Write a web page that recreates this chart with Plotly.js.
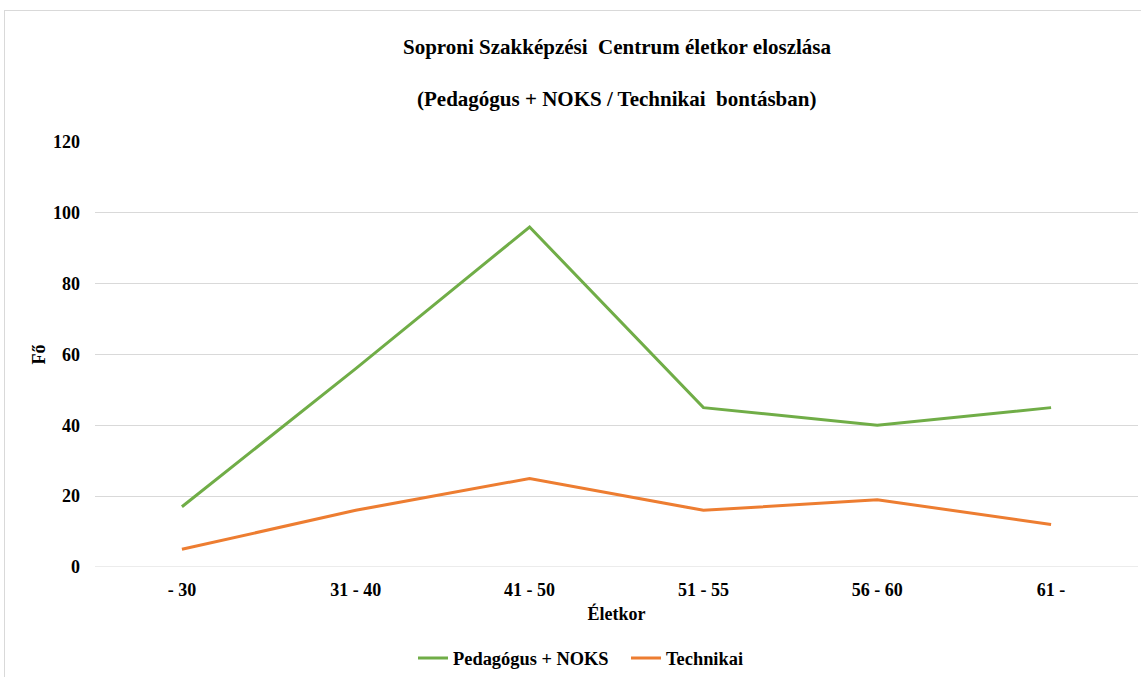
<!DOCTYPE html>
<html><head><meta charset="utf-8">
<script src="https://cdn.plot.ly/plotly-3.0.1.min.js"></script>
<style>html,body{margin:0;padding:0;background:#fff}#frame{position:absolute;left:4px;top:10px;width:1140px;height:670px;border:1px solid #d9d9d9;box-sizing:border-box;pointer-events:none;z-index:5}</style>
</head><body>
<div id="frame"></div>
<div id="chart" style="width:1141px;height:677px"></div>
<script>
const categories = ['- 30', '31 - 40', '41 - 50', '51 - 55', '56 - 60', '61 -'];
const pedagogus = [17, 56, 96, 45, 40, 45];
const technikai = [5, 16, 25, 16, 19, 12];
const yTicks = [0, 20, 40, 60, 80, 100, 120];
const font = 'Liberation Serif, Times New Roman, serif';
const traces = [
  {x: categories, y: pedagogus, type: 'scatter', mode: 'lines', name: 'Pedagógus + NOKS', line: {color: '#70AD47', width: 3}},
  {x: categories, y: technikai, type: 'scatter', mode: 'lines', name: 'Technikai', line: {color: '#ED7D31', width: 3}}
];
const layout = {
  width: 1141, height: 677,
  margin: {l: 95, r: 3, t: 142, b: 110},
  paper_bgcolor: '#fff', plot_bgcolor: '#fff',
  font: {family: font, color: '#000', size: 18},
  showlegend: true,
  legend: {orientation: 'h', x: 0.3049, xanchor: 'left', yref: 'container', y: 0.028, yanchor: 'middle', itemwidth: 30, entrywidth: 168, font: {family: font, size: 18.4, color: '#000', weight: 'bold'}, traceorder: 'normal'},
  xaxis: {
    type: 'category', range: [-0.5, 5.5], showgrid: false, zeroline: false, showline: false, ticks: '',
    tickfont: {family: font, size: 18, weight: 'bold'},
    title: {text: '<b>Életkor</b>', font: {family: font, size: 18}, standoff: 8},
    ticklabelstandoff: 10
  },
  yaxis: {
    range: [0, 120], tickvals: yTicks, showgrid: true, gridcolor: '#d9d9d9', gridwidth: 1,
    zeroline: false, showline: false, ticks: '',
    tickfont: {family: font, size: 18, weight: 'bold'},
    ticklabelstandoff: 14,
    title: {text: '<b>Fő</b>', font: {family: font, size: 18}, standoff: 2}
  },
  shapes: [{type: 'line', xref: 'paper', yref: 'y', x0: 0, x1: 1, y0: 0, y1: 0, line: {color: '#d9d9d9', width: 1}}],
  annotations: [
    {text: '<b>Soproni Szakképzési  Centrum életkor eloszlása</b>', xref: 'paper', yref: 'paper', x: 0.5, y: 1, yshift: 95, showarrow: false, xanchor: 'center', yanchor: 'middle', font: {family: font, size: 21}},
    {text: '<b>(Pedagógus + NOKS / Technikai  bontásban)</b>', xref: 'paper', yref: 'paper', x: 0.5, y: 1, yshift: 43, showarrow: false, xanchor: 'center', yanchor: 'middle', font: {family: font, size: 21}}
  ]
};
Plotly.newPlot('chart', traces, layout, {displayModeBar: false, staticPlot: true});
</script>
</body></html>
